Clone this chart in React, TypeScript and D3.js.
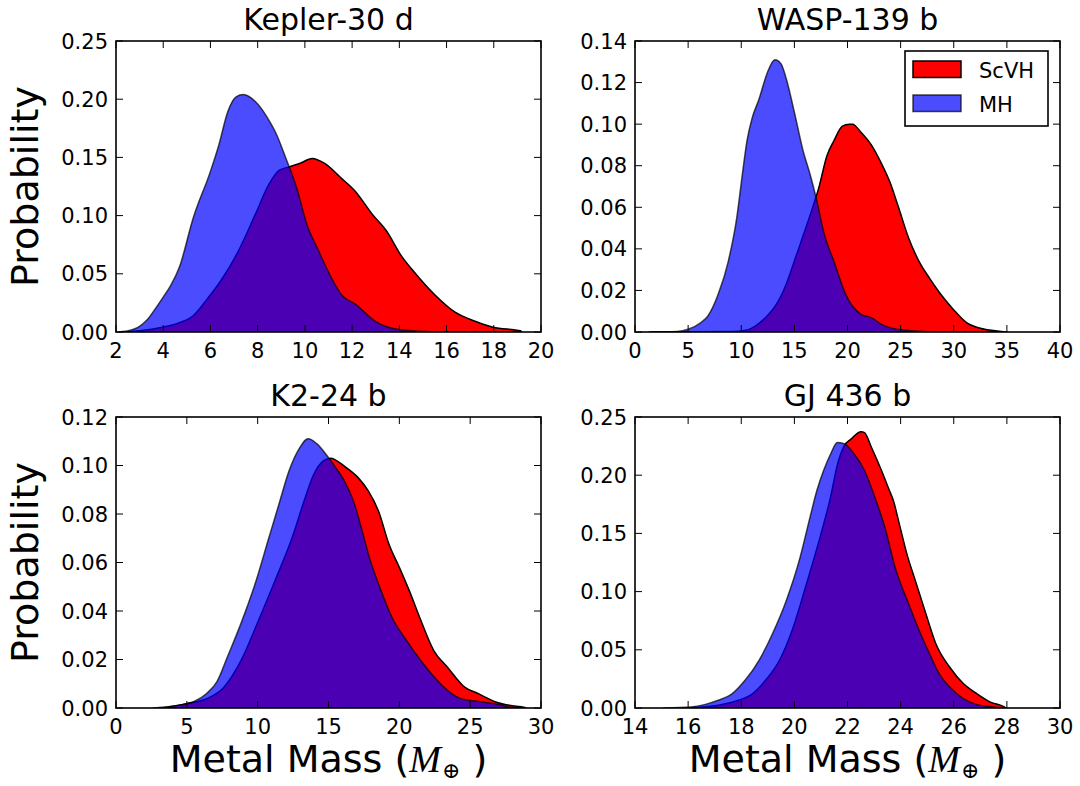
import React from 'react';
import * as d3 from 'd3';

// ---------- data ----------
const titles = ['Kepler-30 d', 'WASP-139 b', 'K2-24 b', 'GJ 436 b'];
const xDomains: [number, number][] = [[2, 20], [0, 40], [0, 30], [14, 30]];
const xTickValues: number[][] = [
  [2, 4, 6, 8, 10, 12, 14, 16, 18, 20],
  [0, 5, 10, 15, 20, 25, 30, 35, 40],
  [0, 5, 10, 15, 20, 25, 30],
  [14, 16, 18, 20, 22, 24, 26, 28, 30],
];
const yDomains: [number, number][] = [[0, 0.25], [0, 0.14], [0, 0.12], [0, 0.25]];
const yTickValues: number[][] = [
  [0, 0.05, 0.1, 0.15, 0.2, 0.25],
  [0, 0.02, 0.04, 0.06, 0.08, 0.1, 0.12, 0.14],
  [0, 0.02, 0.04, 0.06, 0.08, 0.1, 0.12],
  [0, 0.05, 0.1, 0.15, 0.2, 0.25],
];
const seriesNames = ['ScVH', 'MH'];

const kepler30dScVH: [number, number][] = [[2.28,0],[3.0,0.001],[3.96,0.004],[4.69,0.008],[5.27,0.014],[5.85,0.028],[6.44,0.044],[7.17,0.069],[7.9,0.101],[8.48,0.127],[8.92,0.139],[9.36,0.142],[9.8,0.145],[10.31,0.149],[10.82,0.145],[11.55,0.132],[12.13,0.121],[12.86,0.101],[13.45,0.087],[14.1,0.065],[14.61,0.052],[15.5,0.032],[16.36,0.017],[17.24,0.009],[17.97,0.004],[19.14,0.001],[19.17,0]];
const kepler30dMH: [number, number][] = [[2.13,0],[2.6,0.0015],[2.93,0.004],[3.3,0.01],[3.7,0.021],[4.0,0.03],[4.32,0.04],[4.69,0.056],[5.27,0.098],[6.0,0.138],[6.36,0.161],[6.73,0.189],[7.09,0.202],[7.39,0.204],[7.9,0.198],[8.56,0.179],[8.77,0.171],[9.2,0.149],[9.65,0.124],[10.09,0.092],[10.53,0.072],[11.11,0.047],[11.55,0.032],[12.13,0.024],[13.0,0.009],[14.03,0.002],[15.3,0.0003],[16.0,0]];

const wasp139bScVH: [number, number][] = [[1.5,0],[9.1,0.0002],[10.4,0.0008],[11.35,0.003],[12.3,0.007],[13.27,0.013],[14.23,0.023],[15.19,0.037],[16.47,0.056],[17.28,0.069],[18.08,0.085],[18.72,0.092],[19.52,0.099],[20.16,0.1],[20.48,0.1],[21.28,0.096],[22.24,0.09],[23.2,0.081],[24.0,0.072],[24.8,0.06],[25.77,0.045],[26.73,0.034],[27.7,0.026],[28.65,0.019],[29.94,0.011],[31.2,0.0045],[32.5,0.0018],[34.1,0.0005],[35,0]];
const wasp139bMH: [number, number][] = [[1.35,0],[3.97,0.0002],[5,0.0013],[6.2,0.0045],[6.86,0.0077],[7.82,0.018],[8.78,0.034],[9.58,0.055],[10.06,0.074],[10.54,0.092],[11.03,0.103],[11.67,0.112],[12.47,0.125],[13.17,0.131],[13.75,0.129],[14.23,0.122],[15.03,0.105],[15.83,0.087],[16.47,0.076],[17.12,0.063],[17.76,0.048],[18.72,0.034],[19.84,0.018],[21.28,0.0085],[22.24,0.0069],[23.2,0.0037],[24.17,0.0018],[26.4,0.0005],[28.65,0]];

const k224bScVH: [number, number][] = [[3.25,0],[4.95,0.0018],[6.4,0.0038],[7.62,0.0086],[8.83,0.0196],[10.05,0.036],[11.26,0.053],[12.48,0.071],[13.2,0.084],[13.93,0.096],[14.66,0.102],[15.15,0.103],[16.12,0.0997],[17.09,0.095],[17.82,0.0894],[18.54,0.081],[19.27,0.0675],[20.0,0.058],[20.73,0.048],[21.46,0.037],[22.43,0.0237],[23.4,0.0168],[24.61,0.0086],[25.58,0.0059],[26.8,0.0025],[27.77,0.0011],[28.86,0.0002],[28.93,0]];
const k224bMH: [number, number][] = [[2.65,0],[4.47,0.0011],[5.44,0.0025],[6.4,0.006],[7.14,0.011],[7.86,0.021],[8.83,0.035],[9.81,0.051],[10.78,0.07],[11.5,0.084],[12.23,0.098],[12.84,0.106],[13.57,0.111],[14.17,0.109],[14.9,0.104],[15.4,0.1],[16.12,0.0936],[16.84,0.084],[17.33,0.074],[17.94,0.061],[18.54,0.051],[19.51,0.037],[20.49,0.028],[21.46,0.02],[22.43,0.013],[23.4,0.0073],[24.37,0.0038],[25.83,0.0025],[27.04,0.0014],[27.77,0.0004],[28.2,0]];

const gj436bScVH: [number, number][] = [[15.97,0],[17.13,0.0023],[17.9,0.0066],[18.41,0.012],[18.92,0.024],[19.44,0.041],[19.95,0.069],[20.46,0.107],[20.97,0.147],[21.36,0.181],[21.62,0.209],[21.87,0.225],[22.13,0.231],[22.51,0.2374],[22.64,0.2366],[22.9,0.224],[23.28,0.204],[23.54,0.189],[23.73,0.178],[23.92,0.161],[24.24,0.132],[24.56,0.109],[24.95,0.081],[25.33,0.055],[25.85,0.035],[26.36,0.021],[26.87,0.0123],[27.38,0.0051],[27.9,0.0009],[27.96,0]];
const gj436bMH: [number, number][] = [[15.08,0],[16.1,0.0009],[16.62,0.0029],[17.13,0.0066],[17.64,0.012],[18.15,0.024],[18.67,0.041],[19.18,0.064],[19.69,0.092],[20.21,0.129],[20.59,0.164],[20.85,0.187],[21.1,0.204],[21.36,0.218],[21.62,0.228],[21.87,0.227],[22.26,0.218],[22.64,0.204],[23.03,0.181],[23.41,0.155],[23.79,0.121],[24.31,0.089],[24.69,0.067],[25.08,0.047],[25.46,0.029],[25.85,0.018],[26.36,0.008],[26.87,0.0029],[27.51,0.0009],[27.9,0]];

const scvhSeries = [kepler30dScVH, wasp139bScVH, k224bScVH, gj436bScVH];
const mhSeries = [kepler30dMH, wasp139bMH, k224bMH, gj436bMH];

// ---------- layout ----------
const WIDTH = 1080;
const HEIGHT = 786;
const COL_X = [116, 635];
const ROW_Y = [41, 417];
const AW = 425;
const AH = 291;
const FONT = '"DejaVu Sans", sans-serif';
const TICK_LEN = 7;

function Panel({ i }: { i: number }) {
  const col = i % 2;
  const row = Math.floor(i / 2);
  const x0 = COL_X[col];
  const y0 = ROW_Y[row];
  const x = d3.scaleLinear().domain(xDomains[i]).range([0, AW]);
  const y = d3.scaleLinear().domain(yDomains[i]).range([AH, 0]);
  const area = d3
    .area<[number, number]>()
    .x((d) => x(d[0]))
    .y0(y(0))
    .y1((d) => y(d[1]))
    .curve(d3.curveMonotoneX);
  const clipId = `clip-${i}`;
  const yFmt = d3.format('.2f');
  return (
    <g transform={`translate(${x0},${y0})`}>
      <defs>
        <clipPath id={clipId}>
          <rect x={0} y={0} width={AW} height={AH} />
        </clipPath>
      </defs>
      <g clipPath={`url(#${clipId})`}>
        <path d={area(scvhSeries[i]) || ''} fill="#ff0000" stroke="#000" strokeWidth={1.5} strokeLinejoin="round" />
        <path
          d={area(mhSeries[i]) || ''}
          fill="#0000ff"
          fillOpacity={0.7}
          stroke="#000"
          strokeOpacity={0.7}
          strokeWidth={1.5}
          strokeLinejoin="round"
        />
      </g>
      {xTickValues[i].map((t) => (
        <g key={`xt${t}`}>
          <line x1={x(t)} x2={x(t)} y1={AH} y2={AH - TICK_LEN} stroke="#000" strokeWidth={1} />
          <line x1={x(t)} x2={x(t)} y1={0} y2={TICK_LEN} stroke="#000" strokeWidth={1} />
          <text x={x(t)} y={AH + 25.5} textAnchor="middle" fontFamily={FONT} fontSize={21}>
            {t}
          </text>
        </g>
      ))}
      {yTickValues[i].map((t) => (
        <g key={`yt${t}`}>
          <line x1={0} x2={TICK_LEN} y1={y(t)} y2={y(t)} stroke="#000" strokeWidth={1} />
          <line x1={AW} x2={AW - TICK_LEN} y1={y(t)} y2={y(t)} stroke="#000" strokeWidth={1} />
          <text x={-8} y={y(t)} dy="0.36em" textAnchor="end" fontFamily={FONT} fontSize={21}>
            {yFmt(t)}
          </text>
        </g>
      ))}
      <rect x={0} y={0} width={AW} height={AH} fill="none" stroke="#000" strokeWidth={1.6} />
      <text x={AW / 2} y={-11} textAnchor="middle" fontFamily={FONT} fontSize={30}>
        {titles[i]}
      </text>
      {col === 0 && (
        <text
          transform={`translate(${38 - x0},${AH / 2}) rotate(-90)`}
          textAnchor="middle"
          fontFamily={FONT}
          fontSize={38}
        >
          Probability
        </text>
      )}
      {row === 1 && (
        <text x={AW / 2} y={772 - y0} textAnchor="middle" fontFamily={FONT} fontSize={38}>
          <tspan>Metal Mass (</tspan>
          <tspan fontFamily='"Liberation Serif", serif' fontStyle="italic">M</tspan>
          <tspan fontSize={22} dy={6} dx={1} fontFamily='"DejaVu Serif", serif'>⊕</tspan>
          <tspan dy={-6}> )</tspan>
        </text>
      )}
      {i === 1 && (
        <g transform={`translate(${AW - 12 - 143},10)`}>
          <rect x={0} y={0} width={143} height={75} fill="#fff" stroke="#000" strokeWidth={1.6} />
          <rect x={8} y={10} width={48} height={16.5} fill="#ff0000" stroke="#000" strokeWidth={1.5} />
          <rect x={8} y={44} width={48} height={16.5} fill="#0000ff" fillOpacity={0.7} stroke="#000" strokeOpacity={0.7} strokeWidth={1.5} />
          <text x={74} y={26.5} fontFamily={FONT} fontSize={21}>{seriesNames[0]}</text>
          <text x={74} y={60.5} fontFamily={FONT} fontSize={21}>{seriesNames[1]}</text>
        </g>
      )}
    </g>
  );
}

export default function App() {
  return (
    <svg
      width={WIDTH}
      height={HEIGHT}
      viewBox={`0 0 ${WIDTH} ${HEIGHT}`}
      style={{ position: 'absolute', left: 0, top: 0, background: '#fff' }}
    >
      <rect x={0} y={0} width={WIDTH} height={HEIGHT} fill="#fff" />
      {[0, 1, 2, 3].map((i) => (
        <Panel key={i} i={i} />
      ))}
    </svg>
  );
}
